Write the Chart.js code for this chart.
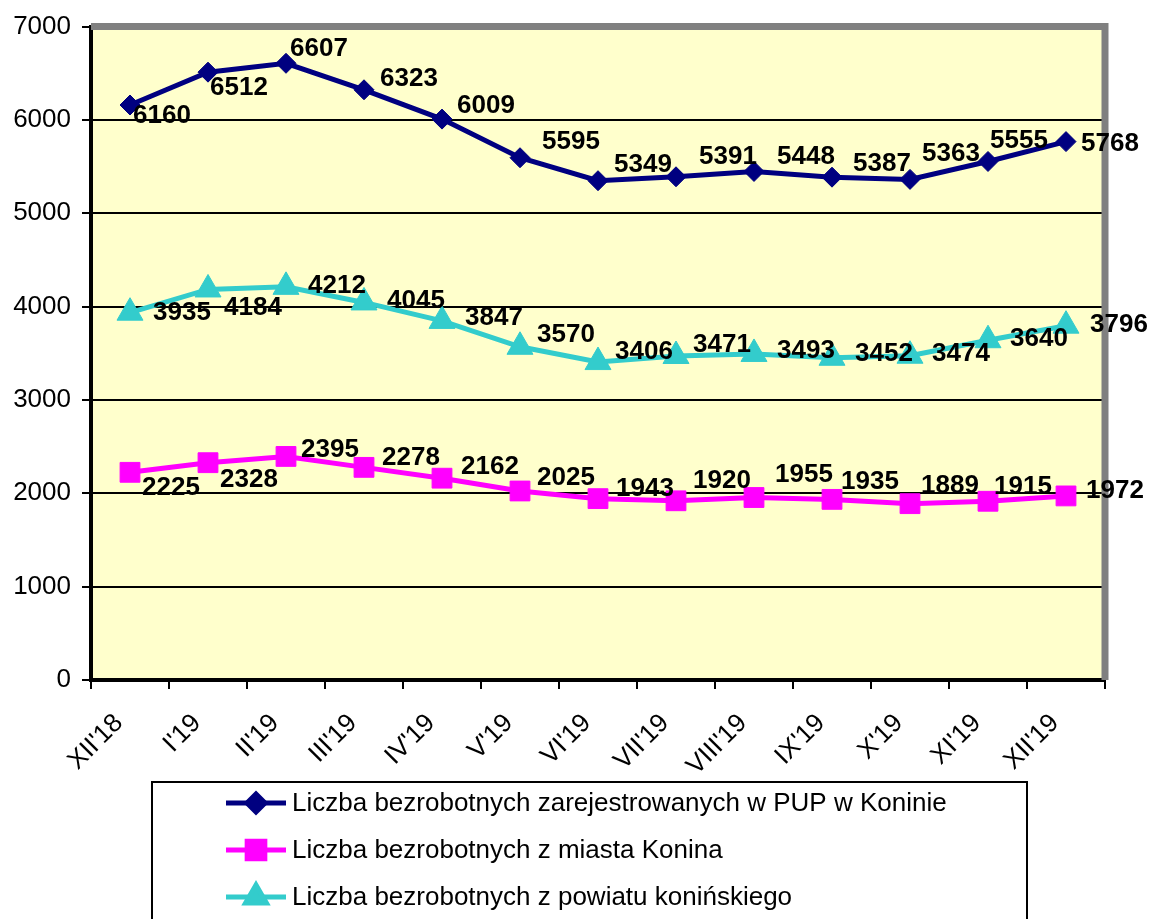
<!DOCTYPE html>
<html>
<head>
<meta charset="utf-8">
<script src="https://cdn.jsdelivr.net/npm/chart.js@4.4.1/dist/chart.umd.min.js"></script>
<style>
  body { margin: 0; background: #fff; }
  canvas { display: block; }
</style>
</head>
<body>
<canvas id="bezrobocieChart" width="1152" height="919"></canvas>
<script>
// Data
const months = ["XII'18", "I'19", "II'19", "III'19", "IV'19", "V'19", "VI'19",
                "VII'19", "VIII'19", "IX'19", "X'19", "XI'19", "XII'19"];
const pupKonin = [6160, 6512, 6607, 6323, 6009, 5595, 5349, 5391, 5448, 5387, 5363, 5555, 5768];
const miastoKonin = [2225, 2328, 2395, 2278, 2162, 2025, 1943, 1920, 1955, 1935, 1889, 1915, 1972];
const powiatKoninski = [3935, 4184, 4212, 4045, 3847, 3570, 3406, 3471, 3493, 3452, 3474, 3640, 3796];
const yTicks = [0, 1000, 2000, 3000, 4000, 5000, 6000, 7000];

const seriesNames = [
  "Liczba bezrobotnych zarejestrowanych w PUP w Koninie",
  "Liczba bezrobotnych z miasta Konina",
  "Liczba bezrobotnych z powiatu konińskiego"
];

// label nudges (px from the point), per series
const nudgePup = [[4,11],[3,16],[5,-14],[17,-11],[16,-13],[23,-16],[17,-16],[24,-20],[24,-15],[22,-13],[13,-26],[3,-21],[16,2]];
const nudgeMiasto = [[13,16],[13,17],[16,-7],[19,-10],[20,-11],[18,-13],[19,-10],[18,-20],[22,-23],[10,-18],[12,-18],[7,-14],[21,-5]];
const nudgePowiat = [[24,0],[17,18],[23,-1],[24,-2],[24,-3],[18,-12],[18,-10],[18,-11],[24,-3],[24,-4],[23,-2],[23,-1],[25,-1]];

const FONT = "Arial, 'Liberation Sans', sans-serif";

// plot area background + grey frame
const plotFrame = {
  id: 'plotFrame',
  beforeDraw(chart) {
    const { ctx, chartArea: a } = chart;
    ctx.save();
    ctx.fillStyle = '#FFFFCC';
    ctx.fillRect(a.left, a.top, a.right - a.left, a.bottom - a.top);
    ctx.restore();
  },
  beforeDatasetsDraw(chart) {
    const { ctx, chartArea: a } = chart;
    ctx.save();
    ctx.strokeStyle = '#808080';
    ctx.lineWidth = 7;
    ctx.beginPath();
    ctx.moveTo(a.left, a.top);
    ctx.lineTo(a.right, a.top);
    ctx.lineTo(a.right, a.bottom);
    ctx.stroke();
    ctx.restore();
  }
};

// value labels next to each point
const valueLabels = {
  id: 'valueLabels',
  afterDatasetsDraw(chart) {
    const { ctx } = chart;
    const nudges = [nudgePup, nudgeMiasto, nudgePowiat];
    ctx.save();
    ctx.font = 'bold 26px ' + FONT;
    ctx.fillStyle = '#000';
    ctx.textAlign = 'left';
    ctx.textBaseline = 'middle';
    chart.data.datasets.forEach((ds, d) => {
      chart.getDatasetMeta(d).data.forEach((pt, i) => {
        const n = nudges[d][i];
        ctx.fillText(String(ds.data[i]), pt.x + n[0] - 1, pt.y + n[1]);
      });
    });
    ctx.restore();
  }
};

// legend box under the axis
const boxLegend = {
  id: 'boxLegend',
  afterDraw(chart) {
    const { ctx } = chart;
    ctx.save();
    ctx.strokeStyle = '#000';
    ctx.lineWidth = 2;
    ctx.strokeRect(152, 782, 875, 200);
    ctx.font = '26px ' + FONT;
    ctx.textBaseline = 'middle';
    ctx.textAlign = 'left';
    const rows = [803, 850, 897];
    chart.data.datasets.forEach((ds, d) => {
      const y = rows[d];
      ctx.strokeStyle = ds.borderColor;
      ctx.lineWidth = 5;
      ctx.beginPath();
      ctx.moveTo(226, y);
      ctx.lineTo(286, y);
      ctx.stroke();
      ctx.fillStyle = ds.borderColor;
      Chart.helpers.drawPoint(ctx, {
        pointStyle: ds.pointStyle,
        radius: ds.legendRadius,
        borderWidth: 1
      }, 256, y);
      ctx.fillStyle = '#000';
      ctx.fillText(ds.label, 292, y + 1);
    });
    ctx.restore();
  }
};

new Chart(document.getElementById('bezrobocieChart'), {
  type: 'line',
  data: {
    labels: months,
    datasets: [
      {
        label: seriesNames[0],
        data: pupKonin,
        borderColor: '#000080',
        backgroundColor: '#000080',
        borderWidth: 5,
        pointStyle: 'rectRot',
        pointRadius: 10,
        pointBorderWidth: 1,
        legendRadius: 9
      },
      {
        label: seriesNames[1],
        data: miastoKonin,
        borderColor: '#FF00FF',
        backgroundColor: '#FF00FF',
        borderWidth: 5,
        pointStyle: 'rect',
        pointRadius: 14,
        pointBorderWidth: 1,
        legendRadius: 12.5
      },
      {
        label: seriesNames[2],
        data: powiatKoninski,
        borderColor: '#33CCCC',
        backgroundColor: '#33CCCC',
        borderWidth: 5,
        pointStyle: 'triangle',
        pointRadius: 15,
        pointBorderWidth: 1,
        legendRadius: 12
      }
    ]
  },
  options: {
    responsive: false,
    animation: false,
    events: [],
    layout: { padding: { left: 0, top: 26, right: 47, bottom: 0 } },
    plugins: {
      legend: { display: false },
      tooltip: { enabled: false }
    },
    scales: {
      x: {
        offset: true,
        grid: {
          offset: true,
          drawOnChartArea: false,
          drawTicks: true,
          tickLength: 9,
          color: '#000',
          lineWidth: 2
        },
        border: { display: true, color: '#000', width: 4 },
        ticks: {
          minRotation: 45,
          maxRotation: 45,
          autoSkip: false,
          labelOffset: -11,
          padding: 19,
          color: '#000',
          font: { family: FONT, size: 26 }
        },
        afterFit(scale) { scale.height = 239; }
      },
      y: {
        min: 0,
        max: 7000,
        afterBuildTicks(scale) { scale.ticks = yTicks.map(v => ({ value: v })); },
        grid: {
          color: '#000',
          lineWidth: 2,
          drawTicks: true,
          tickLength: 9
        },
        border: { display: true, color: '#000', width: 4 },
        ticks: {
          padding: 11,
          color: '#000',
          font: { family: FONT, size: 26 },
          callback: (v) => String(v)
        },
        afterFit(scale) { scale.width = 91; }
      }
    }
  },
  plugins: [plotFrame, valueLabels, boxLegend]
});
</script>
</body>
</html>
